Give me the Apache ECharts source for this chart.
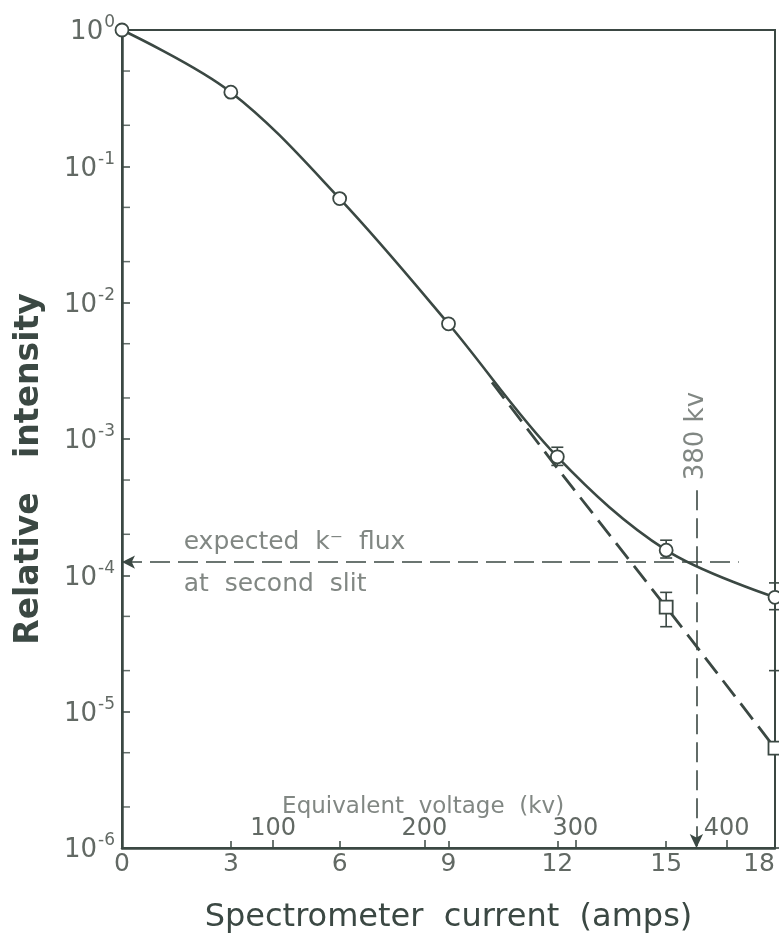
<!DOCTYPE html>
<html>
<head>
<meta charset="utf-8">
<script src="https://cdn.jsdelivr.net/npm/echarts@6/dist/echarts.min.js"></script>
<style>
    html, body { margin: 0; padding: 0; background: #fff; }
    #chart { width: 779px; height: 948px; }
</style>
</head>
<body>
<div id="chart"></div>
<script>
    // measured points (circles) with error bars
    var current = [0, 3, 6, 9, 12, 15, 18];
    var intensity = [1.0, 0.35, 0.058, 0.0070, 7.4e-4, 1.53e-4, 6.9e-5];
    var errCurrent = [12, 15, 18];
    var errLow = [6.4e-4, 1.34e-4, 5.6e-5];
    var errHigh = [8.7e-4, 1.81e-4, 8.8e-5];

    // squares (dashed extrapolation)
    var sqCurrent = [15, 18];
    var sqIntensity = [5.85e-5, 5.4e-6];
    var sqLow = [4.2e-5, 1e-6];
    var sqHigh = [7.5e-5, 2.0e-5];
    var dashCurrent = [10.2, 12, 15, 18];
    var dashIntensity = [2.6e-3, 6.1e-4, 5.85e-5, 5.4e-6];

    // axes
    var kvPerAmp = 24;
    var kvTicks = [100, 200, 300, 400];
    var minorTicks = [2e-6, 5e-6, 2e-5, 5e-5, 2e-4, 5e-4, 2e-3, 5e-3, 2e-2, 5e-2, 2e-1, 5e-1];

    // annotations
    var fluxLevel = 1.25e-4;
    var fluxEnd = 17.0;
    var cutoffKv = 380;
    var cutoffTop = 4.2e-4;

    var ink = '#3b4843';
    var grey = '#626964';
    var font = 'DejaVu Sans';

    var chart = echarts.init(document.getElementById('chart'));
    var cutoffAmp = cutoffKv / kvPerAmp;

    /* error bar drawing */
    var errorBar = function(params, api) {
        var x = api.value(0);
        var top = api.coord([x, api.value(2)]);
        var bot = api.coord([x, api.value(1)]);
        var w = 6;
        var st = { stroke: ink, lineWidth: 1.6 };
        return {
            type: 'group',
            children: [
                { type: 'line', shape: { x1: top[0], y1: top[1], x2: bot[0], y2: bot[1] }, style: st },
                { type: 'line', shape: { x1: top[0] - w, y1: top[1], x2: top[0] + w, y2: top[1] }, style: st },
                { type: 'line', shape: { x1: bot[0] - w, y1: bot[1], x2: bot[0] + w, y2: bot[1] }, style: st }
            ]
        };
    };

    var option = {
        backgroundColor: '#ffffff',
        animation: false,
        textStyle: { fontFamily: font },
        grid: {
            left: 122, right: 4, top: 30, bottom: 100,
            show: true, borderColor: ink, borderWidth: 2, backgroundColor: 'transparent'
        },
        xAxis: [{
            type: 'value', min: 0, max: 18, interval: 3, position: 'bottom',
            name: 'Spectrometer  current  (amps)', nameLocation: 'middle', nameGap: 54,
            nameTextStyle: { fontSize: 32, color: ink, fontFamily: font },
            axisLine: { lineStyle: { color: ink, width: 2.5 } },
            axisTick: { inside: true, length: 7, lineStyle: { color: ink, width: 1.5 } },
            axisLabel: { fontSize: 25, color: grey, margin: 4, alignMaxLabel: 'right' },
            splitLine: { show: false }
        }, {
            type: 'value', min: 0, max: 18 * kvPerAmp, interval: 100, position: 'bottom',
            axisLine: { show: false },
            axisTick: { inside: true, length: 8, lineStyle: { color: ink, width: 1.5 } },
            axisLabel: {
                inside: true, margin: 7, fontSize: 24, color: grey,
                formatter: function(v) { return kvTicks.indexOf(v) >= 0 ? String(v) : ''; }
            },
            splitLine: { show: false }
        }],
        yAxis: {
            type: 'log', logBase: 10, min: 1e-6, max: 1, splitNumber: 6,
            name: 'Relative   intensity', nameLocation: 'middle', nameGap: 76,
            nameTextStyle: { fontSize: 33, fontWeight: 'bold', color: ink, fontFamily: font, padding: [0, 60, 0, 0] },
            axisLine: { lineStyle: { color: ink, width: 2.5 } },
            axisTick: { inside: true, length: 8, lineStyle: { color: ink, width: 1.5 } },
            axisLabel: {
                margin: 7,
                formatter: function(v) {
                    var e = Math.round(Math.log10(v));
                    return '{b|10}{s|' + e + '}';
                },
                rich: {
                    b: { fontSize: 26, color: grey, fontFamily: font, verticalAlign: 'bottom' },
                    s: { fontSize: 17, color: grey, fontFamily: font, verticalAlign: 'bottom', padding: [0, 0, 14, 1] }
                }
            },
            splitLine: { show: false }
        },
        series: [{
            // fitted solid curve
            type: 'line', smooth: 0.35, symbol: 'none', z: 2,
            data: current.map((c, i) => [c, intensity[i]]),
            lineStyle: { color: ink, width: 2.6 }
        }, {
            // dashed extrapolation
            type: 'line', symbol: 'none', z: 2,
            data: dashCurrent.map((c, i) => [c, dashIntensity[i]]),
            lineStyle: { color: ink, width: 2.8, type: [20, 9] },
            markLine: {
                silent: true, animation: false,
                label: { show: false },
                data: [
                    [{ coord: [0, fluxLevel], symbol: 'arrow', symbolSize: [10, 13] },
                     { coord: [fluxEnd, fluxLevel], symbol: 'none' }],
                    [{ coord: [cutoffAmp, cutoffTop], symbol: 'none' },
                     { coord: [cutoffAmp, 1e-6], symbol: 'arrow', symbolSize: [10, 14] }]
                ],
                lineStyle: { color: ink, width: 1.6, type: [20, 8] }
            }
        }, {
            type: 'custom', z: 3, clip: false,
            renderItem: errorBar,
            data: errCurrent.map((c, i) => [c, errLow[i], errHigh[i]])
        }, {
            type: 'custom', z: 3, clip: false,
            renderItem: errorBar,
            data: sqCurrent.map((c, i) => [c, sqLow[i], sqHigh[i]])
        }, {
            type: 'scatter', symbol: 'circle', symbolSize: 13, z: 4, clip: false,
            data: current.map((c, i) => [c, intensity[i]]),
            itemStyle: { color: '#fff', borderColor: ink, borderWidth: 1.8, opacity: 1 }
        }, {
            type: 'scatter', symbol: 'rect', symbolSize: 13, z: 4, clip: false,
            data: sqCurrent.map((c, i) => [c, sqIntensity[i]]),
            itemStyle: { color: '#fff', borderColor: ink, borderWidth: 1.8, opacity: 1 }
        }, {
            // minor ticks on the log axis (2 and 5 of each decade)
            type: 'scatter', symbol: 'rect', symbolSize: [8, 1.5], symbolOffset: [4, 0], z: 4, clip: false,
            data: minorTicks.map(v => [0, v]),
            itemStyle: { color: ink }
        }, {
            // text annotations
            type: 'scatter', symbolSize: 0, z: 5, clip: false,
            data: [
                { value: [1.7, 1.75e-4], label: { formatter: 'expected  k\u207B  flux' } },
                { value: [1.7, 8.6e-5], label: { formatter: 'at  second  slit' } },
                { value: [cutoffAmp, 1.05e-3], label: { formatter: '380 kv', rotate: 90, align: 'center', fontSize: 26 } },
                { value: [8.3, 2.0e-6], label: { formatter: 'Equivalent  voltage  (kv)', align: 'center', fontSize: 23 } }
            ],
            label: {
                show: true, position: 'inside', align: 'left', verticalAlign: 'middle',
                fontSize: 25, color: grey, fontFamily: font
            }
        }]
    };

    chart.setOption(option);
</script>
</body>
</html>
